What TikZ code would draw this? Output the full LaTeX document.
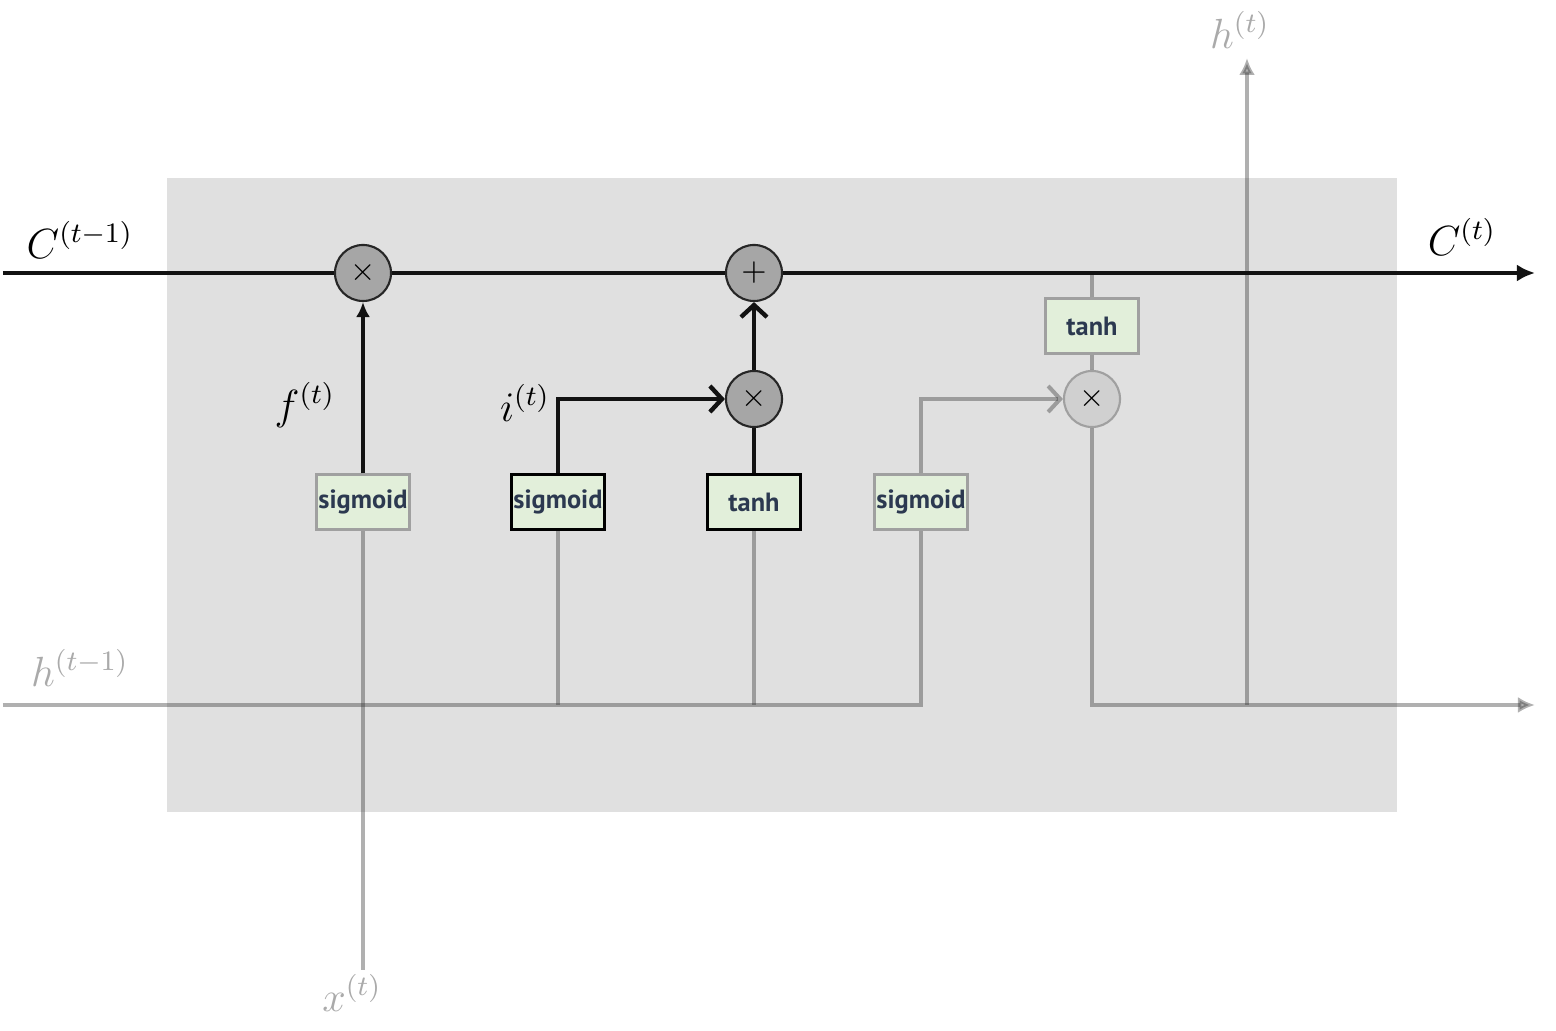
\documentclass[tikz,border=0pt]{standalone}
\usepackage{amsmath}
\usepackage{fontspec}
\setsansfont{PT Sans}
\usetikzlibrary{calc,arrows.meta}
\definecolor{cellbg}{RGB}{224,224,224}
\definecolor{boxfill}{RGB}{226,239,218}
\definecolor{boxtext}{RGB}{44,57,80}
\definecolor{opfill}{RGB}{166,166,166}
\definecolor{fadeopfill}{RGB}{208,208,208}
\definecolor{fadeborder}{RGB}{160,160,160}
\definecolor{fadegrey}{RGB}{51,51,51}
\definecolor{labelgrey}{RGB}{170,170,170}
\tikzset{
	gate/.style={draw=black, fill=boxfill, line width=0.6pt, minimum width=0.93cm, minimum height=0.55cm, inner sep=0pt, text=boxtext, font=\sffamily\bfseries\fontsize{7.5}{8}\selectfont},
	fadegate/.style={gate, draw=fadeborder},
	op/.style={circle, draw=black!85, fill=opfill, line width=0.6pt, minimum size=0.56cm, inner sep=0pt, font=\fontsize{9}{10}\selectfont},
	fadeop/.style={op, draw=fadeborder, fill=fadeopfill},
	cellline/.style={line width=1.25pt, draw=black!93},
	fadeline/.style={line width=1.15pt, draw=fadegrey, draw opacity=0.39, fill opacity=0.39},
	lbl/.style={font=\fontsize{12}{14}\selectfont},
	fadelbl/.style={lbl, text=labelgrey}
}
\begin{document}
\begin{tikzpicture}[x=0.01cm, y=-0.01cm]
	\useasboundingbox (0,0) rectangle (1556,1031);
	\fill[cellbg] (167,178) rectangle (1397,812);
	\coordinate (cin) at (3,273);
	\coordinate (cout) at (1535,273);
	\coordinate (hin) at (3,705);
	\coordinate (hout) at (1535,705);
	\coordinate (xin) at (363,970);
	\coordinate (hsplit) at (1247,705);
	\coordinate (htop) at (1247,58);
	\node[op] (fmul) at (363,273) {$\times$};
	\node[op] (cadd) at (754,273) {$+$};
	\node[op] (imul) at (754,399) {$\times$};
	\node[fadeop] (omul) at (1092,399) {$\times$};
	\node[fadegate] (fg) at (363,502) {sigmoid};
	\node[gate] (ig) at (558,502) {sigmoid};
	\node[gate] (cg) at (754,502) {tanh};
	\node[fadegate] (og) at (921,502) {sigmoid};
	\node[fadegate] (ct) at (1092,326) {tanh};
	\node[lbl] (clast) at (80,240) {$C^{(t-1)}$};
	\node[lbl] (cnext) at (1462,237) {$C^{(t)}$};
	\node[lbl] (flbl) at (305,405) {$f^{(t)}$};
	\node[lbl] (ilbl) at (525,403) {$i^{(t)}$};
	\node[fadelbl] (hlast) at (80,668) {$h^{(t-1)}$};
	\node[fadelbl] (xlbl) at (352,993) {$x^{(t)}$};
	\node[fadelbl] (hnext) at (1240,30) {$h^{(t)}$};
	\draw[fadeline] (hin) -| (og.south);
	\draw[fadeline] (xin) -- (fg.south);
	\draw[fadeline] (ig.south) -- (ig |- hin);
	\draw[fadeline] (cg.south) -- (cg |- hin);
	\draw[fadeline, -{Straight Barb[length=0.12cm,width=0.26cm]}] (og.north) |- (omul.west);
	\draw[fadeline] (ct.north) -- (ct |- cin);
	\draw[fadeline] (ct.south) -- (omul.north);
	\draw[fadeline, -{Latex[length=0.17cm,width=0.16cm]}] (omul.south) |- (hout);
	\draw[fadeline, -{Latex[length=0.17cm,width=0.16cm]}] (hsplit) -- (htop);
	\draw[cellline] (cin) -- (fmul.west);
	\draw[cellline] (fmul.east) -- (cadd.west);
	\draw[cellline, -{Latex[length=0.18cm,width=0.17cm]}] (cadd.east) -- (cout);
	\draw[cellline, -{Latex[length=0.15cm,width=0.14cm]}] (fg.north) -- (fmul.south);
	\draw[cellline, -{Straight Barb[length=0.12cm,width=0.26cm]}] (ig.north) |- (imul.west);
	\draw[cellline] (cg.north) -- (imul.south);
	\draw[cellline, -{Straight Barb[length=0.12cm,width=0.26cm]}] (imul.north) -- (cadd.south);
\end{tikzpicture}
\end{document}
